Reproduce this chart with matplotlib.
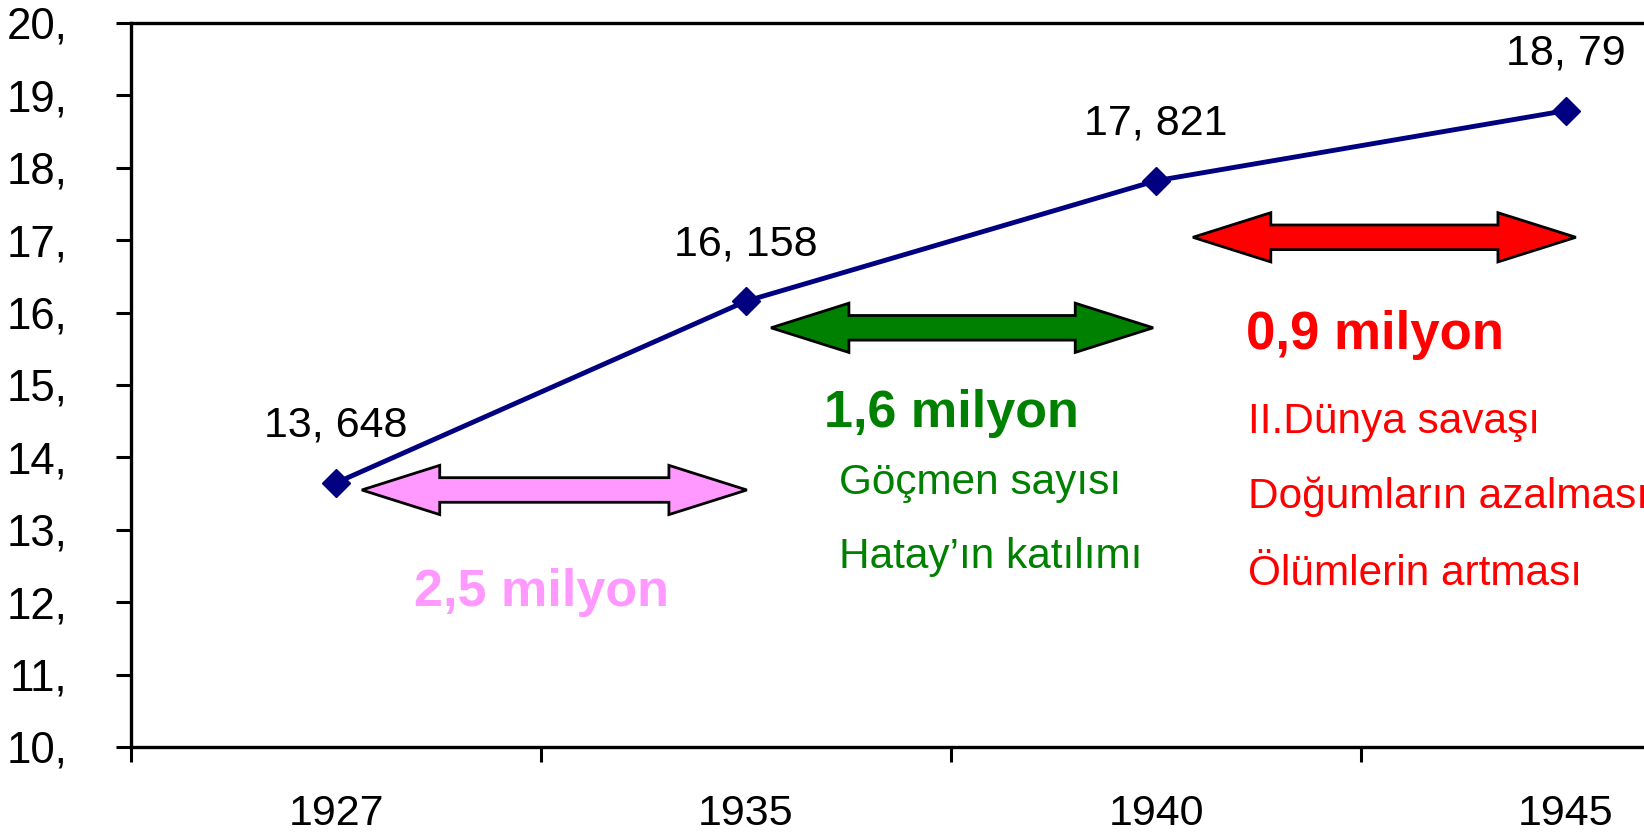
import numpy as np
import matplotlib
matplotlib.use("Agg")
import matplotlib.pyplot as plt
from matplotlib.patches import Polygon

plt.rcParams['font.family'] = ['Liberation Sans', 'DejaVu Sans']

years = ['1927', '1935', '1940', '1945']
population = [13.648, 16.158, 17.821, 18.79]
point_labels = ['13, 648', '16, 158', '17, 821', '18, 79']
ytick_values = list(range(10, 21))
ytick_labels = [f'{v},' for v in ytick_values]

# double arrows: (x start, x end, y, colour) in category units
arrow_specs = [
    (0.063, 1.002, 13.55, '#FF99FF'),
    (1.061, 1.993, 15.79, '#008000'),
    (2.090, 3.024, 17.04, '#FF0000'),
]


def double_arrow(x0, x1, y, shaft=0.34, head_w=0.68, head_l=0.19):
    s, h = shaft / 2, head_w / 2
    pts = [
        (x0, y), (x0 + head_l, y + h), (x0 + head_l, y + s),
        (x1 - head_l, y + s), (x1 - head_l, y + h), (x1, y),
        (x1 - head_l, y - h), (x1 - head_l, y - s),
        (x0 + head_l, y - s), (x0 + head_l, y - h),
    ]
    return pts


fig = plt.figure(figsize=(16.44, 8.33), dpi=100)
ax = fig.add_axes([131 / 1644, 86 / 833, 1640 / 1644, 724 / 833])

x = np.arange(len(years))
ax.plot(x, population, color='#000080', lw=3.5, marker='D', markersize=14,
        markerfacecolor='#000080', markeredgecolor='#000080', zorder=3)

for xi, yi, lab in zip(x, population, point_labels):
    ax.annotate(lab, (xi, yi), xytext=(0, 41), textcoords='offset points',
                ha='center', va='center', fontsize=31, color='black')

for x0, x1, y, col in arrow_specs:
    ax.add_patch(Polygon(double_arrow(x0, x1, y), closed=True, facecolor=col,
                         edgecolor='black', lw=2, zorder=2))

# annotation texts
ax.text(0.502, 12.13, '2,5 milyon', color='#FF99FF', fontsize=37.5,
        fontweight='bold', ha='center', va='center')
ax.text(1.502, 14.61, '1,6 milyon', color='#008000', fontsize=37.5,
        fontweight='bold', ha='center', va='center')
ax.text(1.227, 13.64, 'Göçmen sayısı', color='#008000', fontsize=30.5,
        ha='left', va='center')
ax.text(1.227, 12.62, 'Hatay’ın katılımı', color='#008000', fontsize=30.5,
        ha='left', va='center')
ax.text(2.22, 15.69, '0,9 milyon', color='#FF0000', fontsize=38,
        fontweight='bold', ha='left', va='center')
ax.text(2.224, 14.49, 'II.Dünya savaşı', color='#FF0000', fontsize=30.5,
        ha='left', va='center')
ax.text(2.224, 13.45, 'Doğumların azalması', color='#FF0000', fontsize=30.5,
        ha='left', va='center')
ax.text(2.224, 12.39, 'Ölümlerin artması', color='#FF0000', fontsize=30.5,
        ha='left', va='center')

ax.set_xlim(-0.5, 3.5)
ax.set_ylim(10, 20)
ax.set_yticks(ytick_values)
ax.set_yticklabels(ytick_labels)
ax.set_xticks(x)
ax.set_xticklabels(years)
ax.set_xticks(np.arange(-0.5, 4, 1), minor=True)

ax.tick_params(axis='y', which='major', length=11, width=2.2, labelsize=31.5,
               pad=35, direction='out')
ax.tick_params(axis='x', which='major', length=0, labelsize=31, pad=34)
ax.tick_params(axis='x', which='minor', length=11, width=2.2, direction='out')

for sp in ax.spines.values():
    sp.set_linewidth(2.4)

fig.savefig('out.png', dpi=100)
